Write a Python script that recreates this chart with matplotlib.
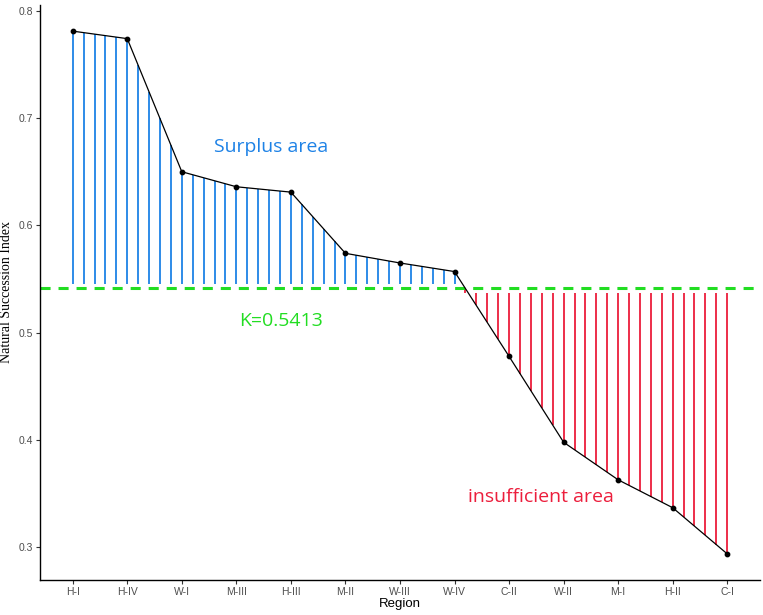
import numpy as np
import matplotlib
matplotlib.use("Agg")
import matplotlib.pyplot as plt

regions = ["H-I", "H-IV", "W-I", "M-III", "H-III", "M-II", "W-III",
           "W-IV", "C-II", "W-II", "M-I", "H-II", "C-I"]
index = [0.781, 0.774, 0.650, 0.636, 0.631, 0.574, 0.565,
         0.557, 0.478, 0.398, 0.363, 0.337, 0.294]
K = 0.5413

blue = "#1E82E6"
red = "#EC1E3C"
green = "#22DD22"

fig = plt.figure(figsize=(7.63, 6.15), dpi=100)
ax = fig.add_axes([0.0524, 0.0569, 0.9436, 0.935])

x = np.arange(len(regions))
# drop lines between K and the polyline, five per interval
xs = np.arange(0, len(regions) - 1 + 1e-9, 0.2)
ys = np.interp(xs, x, index)
up = ys > K
ax.vlines(xs[up], K + 0.004, ys[up], color=blue, lw=1.3, zorder=1)
ax.vlines(xs[~up], ys[~up], K - 0.004, color=red, lw=1.3, zorder=1)

ax.axhline(K, color=green, lw=2.2, ls=(0, (3.3, 2.6)), zorder=2)
ax.plot(x, index, color="black", lw=0.9, zorder=3)
ax.scatter(x, index, s=10, color="black", zorder=4)

tf = ["Open Sans", "DejaVu Sans"]
ax.text(3.63, 0.673, "Surplus area", color=blue, fontsize=14,
        ha="center", va="center", family=tf)
ax.text(3.81, 0.511, "K=0.5413", color=green, fontsize=14,
        ha="center", va="center", family=tf)
ax.text(8.59, 0.3466, "insufficient area", color=red, fontsize=14,
        ha="center", va="center", family=tf)

ax.set_xlim(-0.6, len(regions) - 0.4)
lo, hi = min(index), max(index)
pad = (hi - lo) * 0.05
ax.set_ylim(lo - pad, hi + pad)
ax.set_xticks(x)
ax.set_xticklabels(regions)
ax.set_yticks([0.3, 0.4, 0.5, 0.6, 0.7, 0.8])
narrow = ["Liberation Sans Narrow", "Liberation Sans", "DejaVu Sans"]
for lab in ax.get_xticklabels() + ax.get_yticklabels():
    lab.set_family(narrow)
    lab.set_fontsize(7.5)
    lab.set_color("#4D4D4D")
ax.tick_params(length=3, color="#333333", width=0.8, pad=2)
ax.spines["top"].set_visible(False)
ax.spines["right"].set_visible(False)
for s in ["left", "bottom"]:
    ax.spines[s].set_color("black")
    ax.spines[s].set_linewidth(1.0)

ax.set_xlabel("Region", fontsize=9.5, family=narrow)
ax.xaxis.set_label_coords(0.5, -0.032)
ax.set_ylabel("Natural Succession Index", fontsize=10,
              family=["Liberation Serif", "DejaVu Serif"])
ax.yaxis.set_label_coords(-0.037, 0.5)

fig.savefig("out.png", dpi=100)
